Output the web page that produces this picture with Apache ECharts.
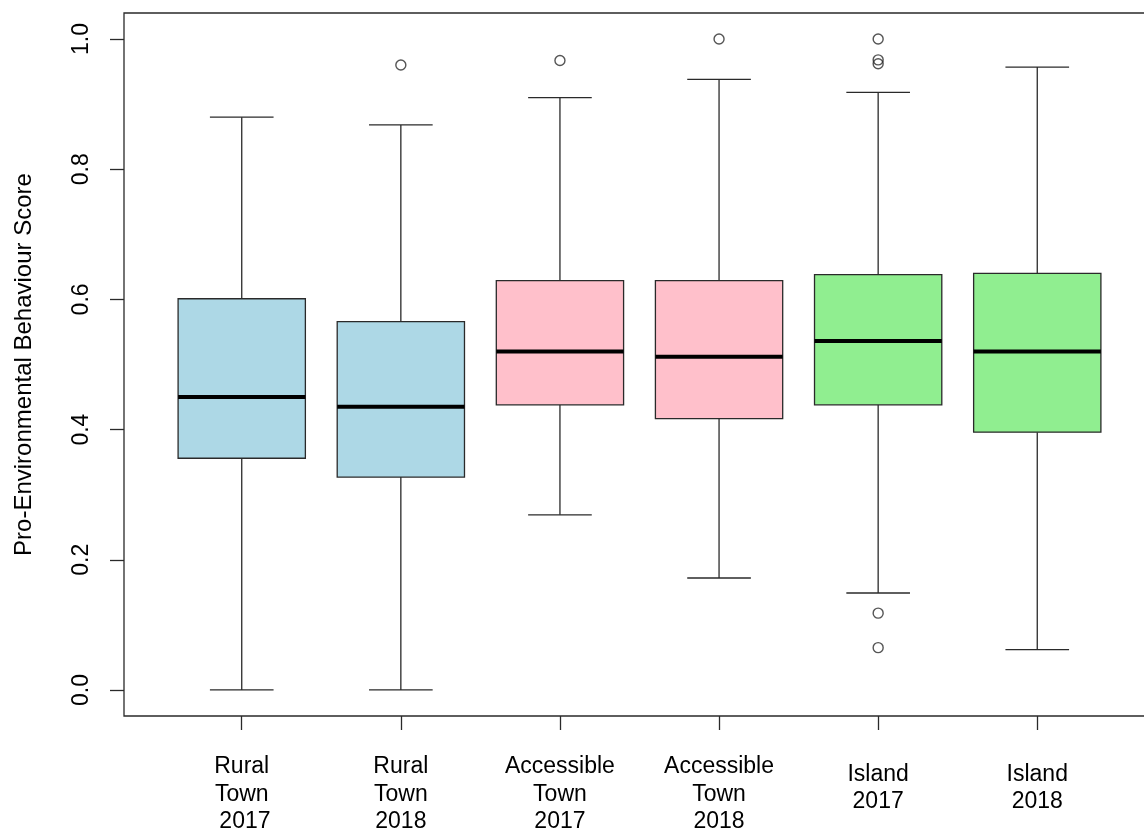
<!DOCTYPE html>
<html>
<head>
<meta charset="utf-8">
<script src="https://cdn.jsdelivr.net/npm/echarts@6/dist/echarts.min.js"></script>
<style>
html,body{margin:0;padding:0;background:#fff;overflow:hidden;}
#chart{width:1144px;height:829px;}
</style>
</head>
<body>
<div id="chart"></div>
<script>
// Categories (group labels)
const categories = ['Rural\nTown\n 2017', 'Rural\nTown\n2018', 'Accessible\nTown\n2017', 'Accessible\nTown\n2018', 'Island\n2017', 'Island\n2018'];
// Five-number summaries: [lower whisker, Q1, median, Q3, upper whisker]
const lowerWhisker = [0.000, 0.000, 0.269, 0.172, 0.149, 0.062];
const q1Values     = [0.356, 0.327, 0.438, 0.417, 0.438, 0.396];
const medianValues = [0.450, 0.435, 0.520, 0.512, 0.536, 0.520];
const q3Values     = [0.601, 0.566, 0.629, 0.629, 0.638, 0.640];
const upperWhisker = [0.880, 0.868, 0.910, 0.938, 0.918, 0.957];
// Outliers: [group index (1-based), value]
const outliers = [[2, 0.960], [3, 0.967], [4, 1.000], [5, 1.000], [5, 0.968], [5, 0.962], [5, 0.118], [5, 0.065]];
// Y tick labels
const yTicks = [0.0, 0.2, 0.4, 0.6, 0.8, 1.0];
const xTicks = [1, 2, 3, 4, 5, 6];
const boxColors = ['#ADD8E6', '#ADD8E6', '#FFC0CB', '#FFC0CB', '#90EE90', '#90EE90'];

const boxData = categories.map((c, i) => [i + 1, lowerWhisker[i], q1Values[i], medianValues[i], q3Values[i], upperWhisker[i]]);

const FONT = 'Arial, "Liberation Sans", sans-serif';
const LINE = '#2a2a2a';
const LW = 1.3;

const chart = echarts.init(document.getElementById('chart'), null, {renderer: 'canvas'});

function renderBox(params, api) {
  const x = api.value(0);
  const idx = params.dataIndex;
  const pMin = api.coord([x, api.value(1)]);
  const pQ1 = api.coord([x, api.value(2)]);
  const pMed = api.coord([x, api.value(3)]);
  const pQ3 = api.coord([x, api.value(4)]);
  const pMax = api.coord([x, api.value(5)]);
  const w = api.size([0.8, 0])[0];
  const cx = pMed[0];
  const hw = w / 2, cw = w / 4;
  const ls = {stroke: LINE, lineWidth: LW, fill: null};
  return {
    type: 'group',
    children: [
      {type: 'line', shape: {x1: cx, y1: pQ3[1], x2: cx, y2: pMax[1]}, style: ls},
      {type: 'line', shape: {x1: cx, y1: pQ1[1], x2: cx, y2: pMin[1]}, style: ls},
      {type: 'line', shape: {x1: cx - cw, y1: pMax[1], x2: cx + cw, y2: pMax[1]}, style: ls},
      {type: 'line', shape: {x1: cx - cw, y1: pMin[1], x2: cx + cw, y2: pMin[1]}, style: ls},
      {type: 'rect', shape: {x: cx - hw, y: pQ3[1], width: w, height: pQ1[1] - pQ3[1]},
        style: {fill: boxColors[idx], stroke: LINE, lineWidth: LW}},
      {type: 'line', shape: {x1: cx - hw, y1: pMed[1], x2: cx + hw, y2: pMed[1]},
        style: {stroke: '#000', lineWidth: 4}}
    ]
  };
}

const option = {
  animation: false,
  backgroundColor: '#fff',
  grid: {left: 124, top: 13, right: -11, bottom: 113, outerBoundsMode: 'none', containLabel: false,
    show: true, borderColor: LINE, borderWidth: LW, backgroundColor: 'transparent'},
  xAxis: {
    type: 'value',
    min: 0.26,
    max: 6.74,
    splitLine: {show: false},
    axisLine: {show: false, onZero: false},
    axisTick: {show: true, customValues: xTicks, length: 14, lineStyle: {color: LINE, width: LW}},
    axisLabel: {
      show: true,
      customValues: xTicks,
      margin: 37,
      color: '#000',
      fontFamily: FONT,
      fontSize: 23,
      formatter: function (v) {
        const lines = categories[Math.round(v) - 1].split('\n');
        if (lines.length === 3) {
          return lines.map(l => '{a|' + l + '}').join('\n');
        }
        return '{b1|' + lines[0] + '}\n{b2|' + lines[1] + '}';
      },
      rich: {
        a: {fontSize: 23, fontFamily: FONT, color: '#000', lineHeight: 27.5},
        b1: {fontSize: 23, fontFamily: FONT, color: '#000', lineHeight: 44},
        b2: {fontSize: 23, fontFamily: FONT, color: '#000', lineHeight: 10}
      }
    }
  },
  yAxis: {
    type: 'value',
    min: -0.04,
    max: 1.04,
    name: 'Pro-Environmental Behaviour Score',
    nameLocation: 'middle',
    nameGap: 88,
    nameTextStyle: {fontSize: 24, fontFamily: FONT, color: '#000'},
    splitLine: {show: false},
    axisLine: {show: false, onZero: false},
    axisTick: {show: true, customValues: yTicks, length: 14, lineStyle: {color: LINE, width: LW}},
    axisLabel: {
      show: true,
      customValues: yTicks,
      rotate: 90,
      margin: 31,
      color: '#000',
      fontFamily: FONT,
      fontSize: 23,
      formatter: v => Number(v).toFixed(1)
    }
  },
  series: [
    {
      type: 'custom',
      renderItem: renderBox,
      data: boxData,
      encode: {x: 0, y: [1, 2, 3, 4, 5]},
      z: 2
    },
    {
      type: 'scatter',
      data: outliers,
      symbol: 'circle',
      symbolSize: 10,
      itemStyle: {color: 'rgba(255,255,255,0)', borderColor: LINE, borderWidth: 1.4},
      z: 3
    }
  ]
};
chart.setOption(option);
</script>
</body>
</html>
